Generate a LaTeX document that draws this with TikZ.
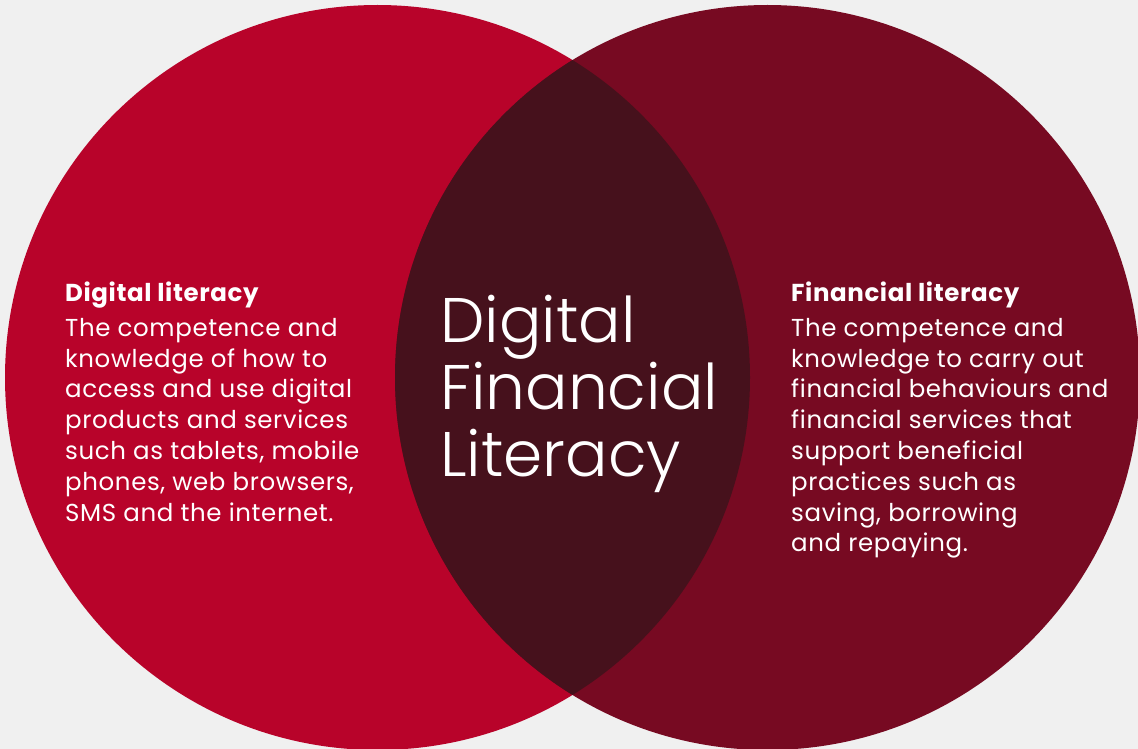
\documentclass[tikz,border=0pt]{standalone}
\usepackage{fontspec}
\setmainfont{Poppins}[LetterSpace=2.5]
\newfontfamily\lightfont{Poppins Light}
\definecolor{bgc}{RGB}{240,240,240}
\definecolor{leftc}{RGB}{184,3,42}
\definecolor{rightc}{RGB}{119,10,34}
\definecolor{lensc}{RGB}{70,17,28}
\tikzset{
  head/.style={inner sep=0pt, anchor=base west, text=white, font=\fontsize{24.5}{28}\selectfont\bfseries},
  body/.style={inner sep=0pt, anchor=north west, text=white, align=left, font=\fontsize{24.5}{30.8}\selectfont},
  title/.style={inner sep=0pt, anchor=north west, text=white, align=left, font=\lightfont\fontsize{63}{67}\selectfont}
}
\begin{document}
\begin{tikzpicture}[x=1pt,y=-1pt]
\fill[bgc] (0,0) rectangle (1138,749);
\useasboundingbox (0,0) rectangle (1138,749);
\fill[leftc] (377.5,377.5) circle[radius=372.5pt];
\fill[rightc] (767.5,377.5) circle[radius=372.5pt];
\begin{scope}
  \clip (377.5,377.5) circle[radius=372.5pt];
  \fill[lensc] (767.5,377.5) circle[radius=372.5pt];
\end{scope}
\node[head] (dlh) at (65,301) {Digital literacy};
\node[body] (dlb) at (65,318) {The competence and\\knowledge of how to\\access and use digital\\products and services\\such as tablets, mobile\\phones, web browsers,\\SMS and the internet.};
\node[head] (flh) at (791,301) {Financial literacy};
\node[body] (flb) at (791,318) {The competence and\\knowledge to carry out\\financial behaviours and\\financial services that\\support beneficial\\practices such as\\saving, borrowing\\and repaying.};
\node[title] (dfl) at (440,295) {Digital\\Financial\\Literacy};
\end{tikzpicture}
\end{document}
